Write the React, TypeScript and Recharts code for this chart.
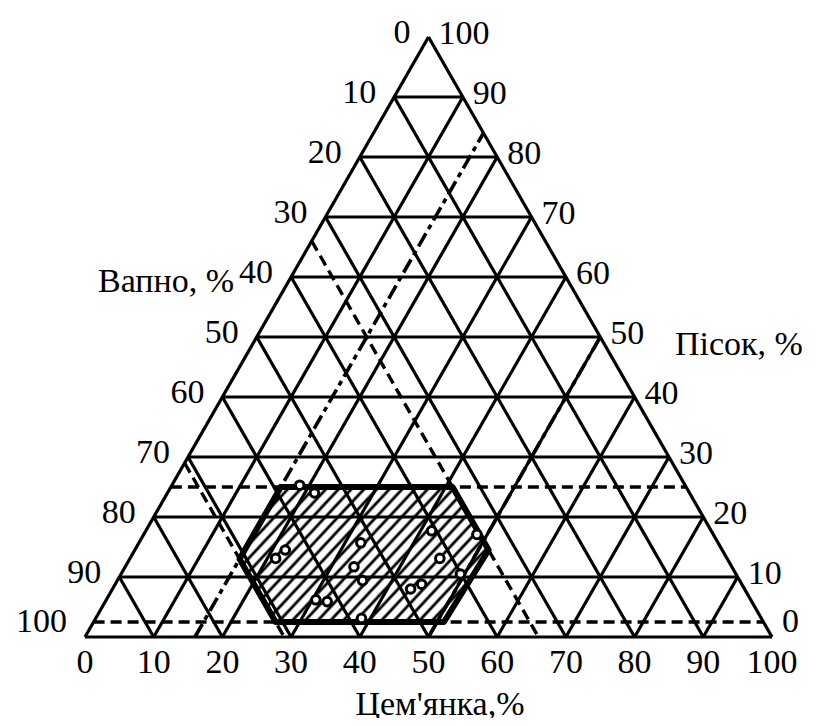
import { ScatterChart, Scatter, XAxis, YAxis } from 'recharts'

// ternary diagram: cement (bottom, 0 -> 100 left to right), sand (apex), lime (bottom-left)
const gridLevels = [0, 10, 20, 30, 40, 50, 60, 70, 80, 90]
const tickValues = [0, 10, 20, 30, 40, 50, 60, 70, 80, 90, 100]

// boundary lines of the studied region
const sandLimits = [2.5, 25]
const cementLimits = [16, 50]
const limeLimits = [34, 71]

// hatched zone corners (cement %, sand %)
const zoneCement = [16, 41, 51.5, 51, 26.5, 16]
const zoneSand = [25, 25, 14.5, 2.5, 2.5, 13]

// tested mixes (cement %, sand %)
const sampleCement = [18.6, 21.4, 21.9, 21.2, 32.3, 33.3, 35.7, 30.5, 32.3, 38.7, 41.6, 45.1, 43.4, 44.6, 49.4, 48.5]
const sampleSand = [25.3, 24, 14.5, 13.1, 15.7, 11.7, 9.4, 6.2, 5.9, 3.1, 17.7, 13.1, 8, 8.8, 10.5, 17.1]

const FONT = "Liberation Serif, Tinos, Times New Roman, DejaVu Serif, serif"

type Pt = { x: number; y: number; label?: string }

// cement + sand -> plane coordinates
const toPlane = (cement: number, sand: number): Pt => ({ x: cement + sand / 2, y: sand })

const sandLine = (k: number): Pt[] => [toPlane(0, k), toPlane(100 - k, k)]
const cementLine = (k: number): Pt[] => [toPlane(k, 0), toPlane(k, 100 - k)]
const limeLine = (k: number): Pt[] => [toPlane(0, 100 - k), toPlane(100 - k, 0)]

const zone = zoneCement.map((c, i) => toPlane(c, zoneSand[i]))
const zoneClosed = [...zone, zone[0]]
const samples = sampleCement.map((c, i) => toPlane(c, sampleSand[i]))

const limeTicks = tickValues.map((v) => ({ ...toPlane(0, 100 - v), label: String(v) }))
const sandTicks = tickValues.map((v) => ({ ...toPlane(100 - v, v), label: String(v) }))
const cementTicks = tickValues.map((v) => ({ ...toPlane(v, 0), label: String(v) }))

const Empty = () => <g />

const T = (props: any) => <text fontFamily={FONT} fontSize={34} fill="#000" {...props} />

const LeftTick = (p: any) => (
  <T x={p.cx - 18} y={p.cy + (p.payload.y === 0 ? -5 : 6)} textAnchor="end">
    {p.payload.label}
  </T>
)
const RightTick = (p: any) => (
  <T x={p.cx + 10} y={p.cy + (p.payload.y === 0 ? -5 : 7)} textAnchor="start">
    {p.payload.label}
  </T>
)
const BottomTick = (p: any) => (
  <T x={p.cx} y={p.cy + 36} textAnchor="middle">
    {p.payload.label}
  </T>
)
const Ring = (p: any) => <circle cx={p.cx} cy={p.cy} r={4.3} fill="#fff" stroke="#000" strokeWidth={3} />

function segment(key: string, pts: Pt[], style: Record<string, any>) {
  return (
    <Scatter
      key={key}
      data={pts}
      line={{ stroke: '#000', fill: 'none', ...style }}
      lineType="joint"
      shape={Empty}
      isAnimationActive={false}
    />
  )
}

export default function App() {
  const grid = { strokeWidth: 3.2 }
  const dashed = { strokeWidth: 3.4, strokeDasharray: '11 6' }
  const dashDot = { strokeWidth: 3.6, strokeDasharray: '15 5 5 5' }
  return (
    <div style={{ margin: -8 }}>
      <ScatterChart width={818} height={726} margin={{ top: 37, right: 46, bottom: 89, left: 85 }}>
        <defs>
          <pattern id="hatch" patternUnits="userSpaceOnUse" width={9.3} height={9.3} patternTransform="rotate(43)">
            <line x1={4.65} y1={0} x2={4.65} y2={9.3} stroke="#000" strokeWidth={2.8} />
          </pattern>
        </defs>
        <XAxis type="number" dataKey="x" domain={[0, 100]} hide />
        <YAxis type="number" dataKey="y" domain={[0, 100]} hide />

        {gridLevels.map((k) => segment(`s${k}`, sandLine(k), grid))}
        {gridLevels.map((k) => segment(`c${k}`, cementLine(k), grid))}
        {gridLevels.map((k) => segment(`l${k}`, limeLine(k), grid))}

        {sandLimits.map((k) => segment(`ds${k}`, sandLine(k), dashed))}
        {limeLimits.map((k) => segment(`dl${k}`, limeLine(k), dashed))}
        {cementLimits.map((k) => segment(`dc${k}`, cementLine(k), dashDot))}

        <Scatter
          data={zoneClosed}
          line={{ stroke: '#000', strokeWidth: 6, fill: 'url(#hatch)', strokeLinejoin: 'round', strokeLinecap: 'round' }}
          lineType="joint"
          shape={Empty}
          isAnimationActive={false}
        />
        <Scatter data={samples} shape={Ring} isAnimationActive={false} />

        <Scatter data={limeTicks} shape={LeftTick} isAnimationActive={false} />
        <Scatter data={sandTicks} shape={RightTick} isAnimationActive={false} />
        <Scatter data={cementTicks} shape={BottomTick} isAnimationActive={false} />

        <T x={234} y={292} textAnchor="end">Вапно, %</T>
        <T x={675} y={355} textAnchor="start">Пісок, %</T>
        <T x={440} y={715} textAnchor="middle">Цем'янка,%</T>
      </ScatterChart>
    </div>
  )
}
